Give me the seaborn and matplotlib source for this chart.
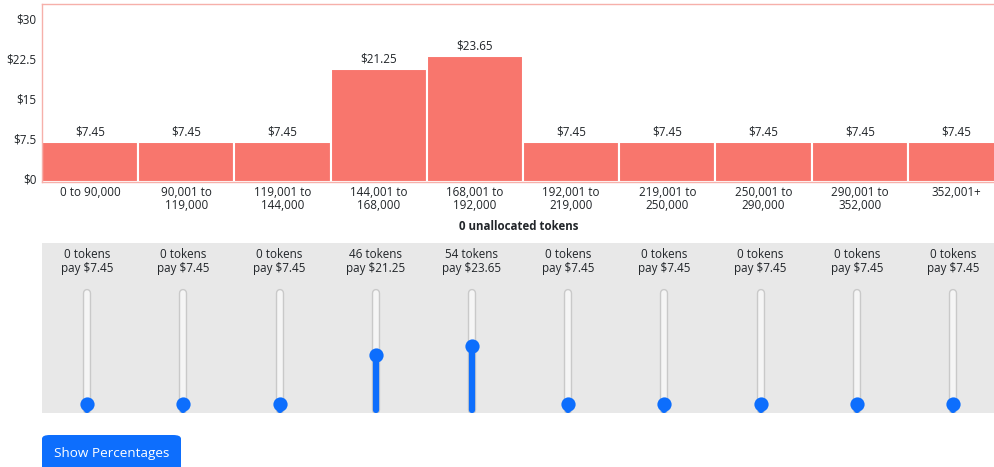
import matplotlib
matplotlib.use("Agg")
import matplotlib.pyplot as plt
import matplotlib.transforms as mtransforms
from matplotlib.patches import FancyBboxPatch
import seaborn as sns
import pandas as pd

# data
brackets = ["0 to 90,000", "90,001 to\n119,000", "119,001 to\n144,000", "144,001 to\n168,000",
            "168,001 to\n192,000", "192,001 to\n219,000", "219,001 to\n250,000", "250,001 to\n290,000",
            "290,001 to\n352,000", "352,001+"]
prices = [7.45, 7.45, 7.45, 21.25, 23.65, 7.45, 7.45, 7.45, 7.45, 7.45]
tokens = [0, 0, 0, 46, 54, 0, 0, 0, 0, 0]
ytick_vals = [0, 7.5, 15, 22.5, 30]
ytick_labels = ["$0", "$7.5", "$15", "$22.5", "$30"]
max_tokens = 100

BAR = "#F8766D"
BLUE = "#0D6EFD"
TXT = "#212529"

sns.set_style("white")
plt.rcParams["font.family"] = ["Open Sans", "DejaVu Sans"]

W, H = 995, 467
fig = plt.figure(figsize=(W / 100, H / 100), dpi=100)

def box(x0, y0, x1, y1):
    # pixel box (top-left origin) -> figure fraction
    return [x0 / W, 1 - y1 / H, (x1 - x0) / W, (y1 - y0) / H]

df = pd.DataFrame({"bracket": brackets, "price": prices})

# bar chart
ax = fig.add_axes(box(42, 4, 995, 182))
sns.barplot(data=df, x="bracket", y="price", color=BAR, saturation=1, width=1,
            edgecolor="white", linewidth=1.5, ax=ax)
ax.bar_label(ax.containers[0], labels=[f"${p:.2f}" for p in prices], padding=2.5,
             fontsize=8.4, color=TXT)
ax.set_xlim(-0.5, 9.406)
ax.set_ylim(0, 33.5)
ax.set_yticks(ytick_vals)
ax.set_yticklabels(ytick_labels)
ax.set_xlabel("")
ax.set_ylabel("")
ax.tick_params(axis="both", length=0, labelsize=8.4, colors=TXT)
ax.tick_params(axis="x", pad=3)
ax.tick_params(axis="y", pad=4)
for lab in ax.get_xticklabels():
    lab.set_linespacing(0.95)
shift = mtransforms.ScaledTranslation(0, 0.04, fig.dpi_scale_trans)
for lab in ax.get_yticklabels():
    lab.set_transform(lab.get_transform() + shift)
for sp in ax.spines.values():
    sp.set_color("#F6B0AA")
    sp.set_linewidth(1)

fig.text(518.5 / W, 1 - 226 / H, "0 unallocated tokens", ha="center", va="center",
         fontsize=8.3, fontweight="bold", color=TXT)

# slider panel (sliders sit ~3 px left of the bar centres)
px_per_tok = 1.065
bot = -9 / px_per_tok
sax = fig.add_axes(box(42, 243, 995, 413))
sax.set_facecolor("#E8E8E8")
sax.set_xlim(-0.469, 9.437)
sax.set_ylim(bot, bot + 170 / px_per_tok)
for sp in sax.spines.values():
    sp.set_visible(False)
sax.set_xticks([])
sax.set_yticks([])

xs = list(range(len(tokens)))
track_lo = -5.6
track_hi = max_tokens + 4.2
sax.vlines(xs, track_lo, track_hi, color="#C9C9C9", linewidth=6, capstyle="round")
sax.vlines(xs, track_lo, track_hi, color="#F5F5F5", linewidth=4, capstyle="round")
sax.vlines(xs, [track_lo] * len(xs), tokens, color=BLUE, linewidth=4.5, capstyle="round")
sns.scatterplot(x=xs, y=tokens, ax=sax, color=BLUE, s=105, edgecolor=BLUE, linewidth=0, zorder=5)

trans = mtransforms.blended_transform_factory(sax.transData, sax.transAxes)
for i, (t, p) in enumerate(zip(tokens, prices)):
    sax.text(i, 0.89, f"{t} tokens\npay ${p:.2f}", transform=trans, ha="center", va="center",
             fontsize=8.4, color=TXT, linespacing=1.05)

# button
btn = FancyBboxPatch((42 / W, 1 - 480 / H), 139 / W, 45 / H,
                     boxstyle="round,pad=0,rounding_size=0.008",
                     transform=fig.transFigure, facecolor=BLUE, edgecolor="none")
fig.patches.append(btn)
fig.text(112 / W, 1 - 454 / H, "Show Percentages", ha="center", va="center",
         fontsize=9.7, color="white")

fig.savefig("out.png", dpi=100)
